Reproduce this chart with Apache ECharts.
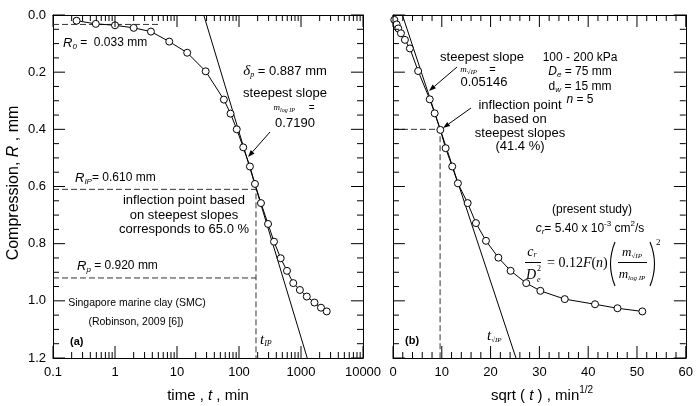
<!DOCTYPE html>
<html><head><meta charset="utf-8">
<script src="https://cdn.jsdelivr.net/npm/echarts@6.0.0/dist/echarts.min.js"></script>
<style>html,body{margin:0;padding:0;background:#fff}#c{width:696px;height:406px}</style>
</head><body><div id="c"></div>
<script>
// ---- data ----
const leftTime = [0.24, 0.49, 1, 2, 3.8, 7.5, 14.6, 29, 57, 73, 92, 117, 150, 181, 226, 294, 367, 470, 594, 750, 960, 1240, 1650, 2100, 2600];
const leftR    = [0.020, 0.031, 0.036, 0.045, 0.058, 0.093, 0.132, 0.197, 0.296, 0.345, 0.400, 0.463, 0.530, 0.591, 0.658, 0.731, 0.793, 0.851, 0.895, 0.938, 0.962, 0.985, 1.006, 1.024, 1.037];
const rightSqrtT = [0.27, 0.75, 1.08, 1.63, 2.44, 3.46, 5.15, 7.53, 8.54, 9.7, 10.78, 12.14, 13.3, 15.3, 17.0, 19.05, 21.6, 24.1, 27.3, 30.2, 35.2, 41.4, 46.0, 51.1];
const rightR     = [0.017, 0.033, 0.047, 0.064, 0.087, 0.117, 0.196, 0.295, 0.344, 0.402, 0.466, 0.530, 0.589, 0.658, 0.728, 0.790, 0.849, 0.895, 0.938, 0.965, 0.994, 1.012, 1.026, 1.037];
const steepLeftT = [27, 1260];
const steepLeftR = [0, 1.2];
const steepRightX = [1.93, 25.2];
const steepRightR = [0, 1.2];
const r0DashT = [0.1, 5];        const r0DashR = [0.033, 0.033];
const ripDashT = [0.1, 188, 188]; const ripDashR = [0.61, 0.61, 1.2];
const rpDashT = [0.1, 188];      const rpDashR = [0.92, 0.92];
const ipRightX = [0, 9.65, 9.65]; const ipRightR = [0.4, 0.4, 1.2];
const xTickLabelsLeft = ['0.1', '1', '10', '100', '1000', '10000'];
const xTickLabelsRight = ['0', '10', '20', '30', '40', '50', '60'];
const yTickLabels = ['0.0', '0.2', '0.4', '0.6', '0.8', '1.0', '1.2'];

// ---- helpers ----
const zip = (a, b) => a.map((v, i) => [v, b[i]]);
const FS = '"Liberation Sans", Arial, sans-serif';
const FR = '"Liberation Serif", "Times New Roman", serif';
function f(size, fam, style, weight) { return (style || 'normal') + ' ' + (weight || 'normal') + ' ' + size + 'px ' + (fam || FS); }
const mctx = document.createElement('canvas').getContext('2d');
function mw(t, font) { mctx.font = font; return mctx.measureText(t).width; }
function txt(x, y, text, font, align) {
  return { type: 'text', x: x, y: y, z: 100, silent: true,
    style: { text: text, font: font, fill: '#000', textAlign: align || 'left', textVerticalAlign: 'middle', align: align || 'left', verticalAlign: 'middle' } };
}
function seq(x, y, parts, align) {
  const ws = parts.map(p => mw(p[0], p[1]));
  const tot = ws.reduce((a, b) => a + b, 0);
  let cx = align === 'center' ? x - tot / 2 : (align === 'right' ? x - tot : x);
  const out = [];
  parts.forEach((p, i) => { out.push(txt(cx + (p[3] || 0), y + (p[2] || 0), p[0], p[1], 'left')); cx += ws[i]; });
  return out;
}
function arrow(x1, y1, x2, y2) {
  const a = Math.atan2(y2 - y1, x2 - x1), L = 7, W = 2.5;
  const bx = x2 - L * Math.cos(a), by = y2 - L * Math.sin(a);
  return [
    { type: 'line', z: 100, shape: { x1: x1, y1: y1, x2: bx, y2: by }, style: { stroke: '#000', lineWidth: 1 } },
    { type: 'polygon', z: 100, shape: { points: [[x2, y2], [bx + W * Math.sin(a), by - W * Math.cos(a)], [bx - W * Math.sin(a), by + W * Math.cos(a)]] }, style: { fill: '#000' } }
  ];
}
function seg(x1, y1, x2, y2) { return { type: 'line', z: 100, silent: true, shape: { x1: x1, y1: y1, x2: x2, y2: y2 }, style: { stroke: '#000', lineWidth: 1 } }; }

// ---- text annotations ----
const I13 = f(13, FS, 'italic'), I8 = f(8, FS, 'italic'), I12 = f(12, FS, 'italic');
let G = [];
G = G.concat(seq(63, 43, [['R', I13], ['0', I8, 4], [' =  0.033 mm', f(12)]]));
G = G.concat(seq(285, 71, [['δ', f(15, FR, 'italic')], ['p', f(8, FR, 'italic'), 4], [' = 0.887 mm', f(13)]], 'center'));
G.push(txt(285, 93, 'steepest slope', f(13), 'center'));
G = G.concat(seq(294, 108, [['m', f(9, FR, 'italic')], ['log IP', f(6, FR, 'italic'), 2], ['     =', f(10)]], 'center'));
G.push(txt(295, 123, '0.7190', f(13), 'center'));
G = G.concat(arrow(270, 132, 248, 157));
G = G.concat(seq(75, 178, [['R', I13], ['IP', I8, 4], ['= 0.610 mm', f(12)]]));
G.push(txt(184, 200, 'inflection point based', f(13), 'center'));
G.push(txt(184, 215, 'on steepest slopes', f(13), 'center'));
G.push(txt(184, 229, 'corresponds to 65.0 %', f(13), 'center'));
G = G.concat(seq(77, 266, [['R', I13], ['p', I8, 4], [' = 0.920 mm', f(12)]]));
G.push(txt(137, 303, 'Singapore marine clay (SMC)', f(10.5), 'center'));
G.push(txt(136, 322, '(Robinson, 2009 [6])', f(10.5), 'center'));
G.push(txt(70, 342, '(a)', f(11, FS, 'normal', 'bold'), 'left'));
G = G.concat(seq(260, 340, [['t', f(15, FR, 'italic')], ['IP', f(8, FR, 'italic'), 4]]));
G.push(txt(482, 57, 'steepest slope', f(13), 'center'));
G = G.concat(seq(478, 70, [['m', f(9, FR, 'italic')], ['√IP', f(7, FR, 'italic'), 2], ['    =', f(11)]], 'center'));
G.push(txt(484, 82, '0.05146', f(13), 'center'));
G = G.concat(arrow(457, 67, 429, 91));
G.push(txt(520, 105, 'inflection point', f(13), 'center'));
G.push(txt(520, 119, 'based on', f(13), 'center'));
G.push(txt(520, 133, 'steepest slopes', f(13), 'center'));
G.push(txt(520, 146, '(41.4 %)', f(13), 'center'));
G = G.concat(arrow(471, 108, 443, 128));
G.push(txt(580, 58, '100 - 200 kPa', f(12), 'center'));
G = G.concat(seq(580, 72, [['D', I12], ['e', I8, 3], [' = 75 mm', f(12)]], 'center'));
G = G.concat(seq(580, 87, [['d', f(12)], ['w', I8, 3], [' = 15 mm', f(12)]], 'center'));
G = G.concat(seq(580, 100, [['n', I12], [' = 5', f(12)]], 'center'));
G.push(txt(592, 210, '(present study)', f(12), 'center'));
G = G.concat(seq(590, 229, [['c', I12], ['r', I8, 3], ['= 5.40 x 10', f(12)], ['-3', f(8), -5], [' cm', f(12)], ['2', f(8), -5], ['/s', f(12)]], 'center'));
G = G.concat(seq(532, 252, [['c', f(14, FR, 'italic')], ['r', f(8, FR, 'italic'), 3]], 'center'));
G.push(seg(525, 262.5, 541, 262.5));
G.push(txt(531, 275, 'D', f(14, FR, 'italic'), 'center'));
G.push(txt(537, 269, '2', f(8, FR), 'left'));
G.push(txt(537, 280, 'e', f(8, FR, 'italic'), 'left'));
G = G.concat(seq(547, 263, [['= 0.12', f(14, FR)], ['F', f(14, FR, 'italic')], ['(', f(14, FR)], ['n', f(14, FR, 'italic')], [')', f(14, FR)]]));
G.push({ type: 'bezierCurve', z: 100, shape: { x1: 615, y1: 242, x2: 615, y2: 286, cpx1: 606, cpy1: 264 }, style: { stroke: '#000', lineWidth: 1.1, fill: 'none' } });
G.push({ type: 'bezierCurve', z: 100, shape: { x1: 650, y1: 242, x2: 650, y2: 286, cpx1: 659, cpy1: 264 }, style: { stroke: '#000', lineWidth: 1.1, fill: 'none' } });
G = G.concat(seq(632, 253, [['m', f(13, FR, 'italic')], ['√IP', f(7, FR, 'italic'), 3]], 'center'));
G.push(seg(618, 262.5, 647, 262.5));
G = G.concat(seq(632, 275, [['m', f(13, FR, 'italic')], ['log IP', f(7, FR, 'italic'), 3]], 'center'));
G.push(txt(656, 243, '2', f(9, FR), 'left'));
G.push(txt(405, 341, '(b)', f(11, FS, 'normal', 'bold'), 'left'));
G = G.concat(seq(487, 336, [['t', f(15, FR, 'italic')], ['√IP', f(7, FR, 'italic'), 4]]));
G.push({ type: 'group', x: 14, y: 183, rotation: Math.PI / 2, children: seq(0, 0, [['Compression, ', f(16)], ['R', f(16, FS, 'italic')], [' , mm', f(16)]], 'center') });
G = G.concat(seq(208, 396, [['time , ', f(15)], ['t', f(15, FS, 'italic')], [' , min', f(15)]], 'center'));
G = G.concat(seq(542, 396, [['sqrt ( ', f(15)], ['t', f(15, FS, 'italic')], [' ) , min', f(15)], ['1/2', f(10), -6]], 'center'));

// ---- axes ----
const AX = { show: true, lineStyle: { color: '#000', width: 1 }, onZero: false };
const NOTICK = { show: false };
function xLog(pos, show) {
  return { type: 'log', logBase: 10, gridIndex: 0, min: 0.1, max: 10000, position: pos,
    axisLine: AX, axisTick: NOTICK,
    axisLabel: { show: show, margin: 8, color: '#000', fontSize: 13, fontFamily: FS, formatter: (v, i) => xTickLabelsLeft[i] }, splitLine: { show: false } };
}
function xLin(pos, show) {
  return { type: 'value', gridIndex: 1, min: 0, max: 60, interval: 10, position: pos,
    axisLine: AX, axisTick: NOTICK,
    axisLabel: { show: show, margin: 8, color: '#000', fontSize: 13, fontFamily: FS, formatter: (v, i) => xTickLabelsRight[i] }, splitLine: { show: false } };
}
function yAx(grid, pos, show) {
  return { type: 'value', gridIndex: grid, min: 0, max: 1.2, interval: 0.2, inverse: true, position: pos,
    axisLine: AX, axisTick: NOTICK,
    axisLabel: { show: show, margin: 7, color: '#000', fontSize: 13, fontFamily: FS, formatter: (v, i) => yTickLabels[i] }, splitLine: { show: false } };
}

// ---- tick marks drawn as a broken line series in data space ----
const PLOT_H = 343, PLOT_WL = 310, PLOT_WR = 295;
const yPerPx = 1.2 / PLOT_H;
const decPerPx = 5 / PLOT_WL;
const linPerPx = 60 / PLOT_WR;
function tickData(isLog, xMajors, xMinors, xmin, xmax) {
  const d = [];
  const gap = v => d.push([v, '-']);
  const xt = (v, len) => {
    const dy = len * yPerPx;
    d.push([v, 1.2], [v, 1.2 - dy]); gap(v);
    d.push([v, 0], [v, dy]); gap(v);
  };
  xMajors.forEach(v => xt(v, 12));
  xMinors.forEach(v => xt(v, 6));
  for (let i = 0; i <= 24; i++) {
    const len = i % 4 === 0 ? 12 : 6;
    const r = Math.round(i * 5) / 100;
    const xa = isLog ? xmin * Math.pow(10, len * decPerPx) : xmin + len * linPerPx;
    const xb = isLog ? xmax / Math.pow(10, len * decPerPx) : xmax - len * linPerPx;
    d.push([xmin, r], [xa, r]); gap(xa);
    d.push([xmax, r], [xb, r]); gap(xb);
  }
  return d;
}
const logMaj = [], logMin = [];
for (let k = -1; k <= 4; k++) logMaj.push(Math.pow(10, k));
for (let k = -1; k < 4; k++) for (let m = 2; m <= 9; m++) logMin.push(m * Math.pow(10, k));
const linMaj = [], linMin = [];
for (let v = 0; v <= 60; v += 2) (v % 10 === 0 ? linMaj : linMin).push(v);

const lineBlack = { color: '#000', width: 1 };
const dashStyle = { color: '#333', width: 1, type: [6, 3] };
function plain(data, xi, yi, style, z) {
  return { type: 'line', data: data, xAxisIndex: xi, yAxisIndex: yi, symbol: 'none', showSymbol: false, silent: true, connectNulls: false, clip: false, lineStyle: style, z: z || 2, animation: false };
}
function pts(data, xi, yi) {
  return { type: 'line', data: data, xAxisIndex: xi, yAxisIndex: yi, symbol: 'circle', symbolSize: 7, showSymbol: true, silent: true,
    lineStyle: lineBlack, itemStyle: { color: '#fff', borderColor: '#000', borderWidth: 1 }, z: 5, animation: false };
}
const option = {
  animation: false,
  backgroundColor: '#fff',
  grid: [
    { left: 53, top: 15, width: PLOT_WL, height: PLOT_H },
    { left: 393, top: 15, width: PLOT_WR, height: PLOT_H }
  ],
  xAxis: [xLog('bottom', true), xLog('top', false), xLin('bottom', true), xLin('top', false)],
  yAxis: [yAx(0, 'left', true), yAx(0, 'right', false), yAx(1, 'left', false), yAx(1, 'right', false)],
  series: [
    plain(zip(steepLeftT, steepLeftR), 0, 0, lineBlack, 3),
    plain(zip(r0DashT, r0DashR), 0, 0, dashStyle),
    plain(zip(ripDashT, ripDashR), 0, 0, dashStyle),
    plain(zip(rpDashT, rpDashR), 0, 0, dashStyle),
    pts(zip(leftTime, leftR), 0, 0),
    plain(zip(steepRightX, steepRightR), 2, 2, lineBlack, 3),
    plain(zip(ipRightX, ipRightR), 2, 2, dashStyle),
    pts(zip(rightSqrtT, rightR), 2, 2),
    plain(tickData(true, logMaj, logMin, 0.1, 10000), 0, 0, lineBlack, 6),
    plain(tickData(false, linMaj, linMin, 0, 60), 2, 2, lineBlack, 6)
  ],
  graphic: { elements: G }
};
const chart = echarts.init(document.getElementById('c'), null, { renderer: 'canvas' });
chart.setOption(option);
</script></body></html>
